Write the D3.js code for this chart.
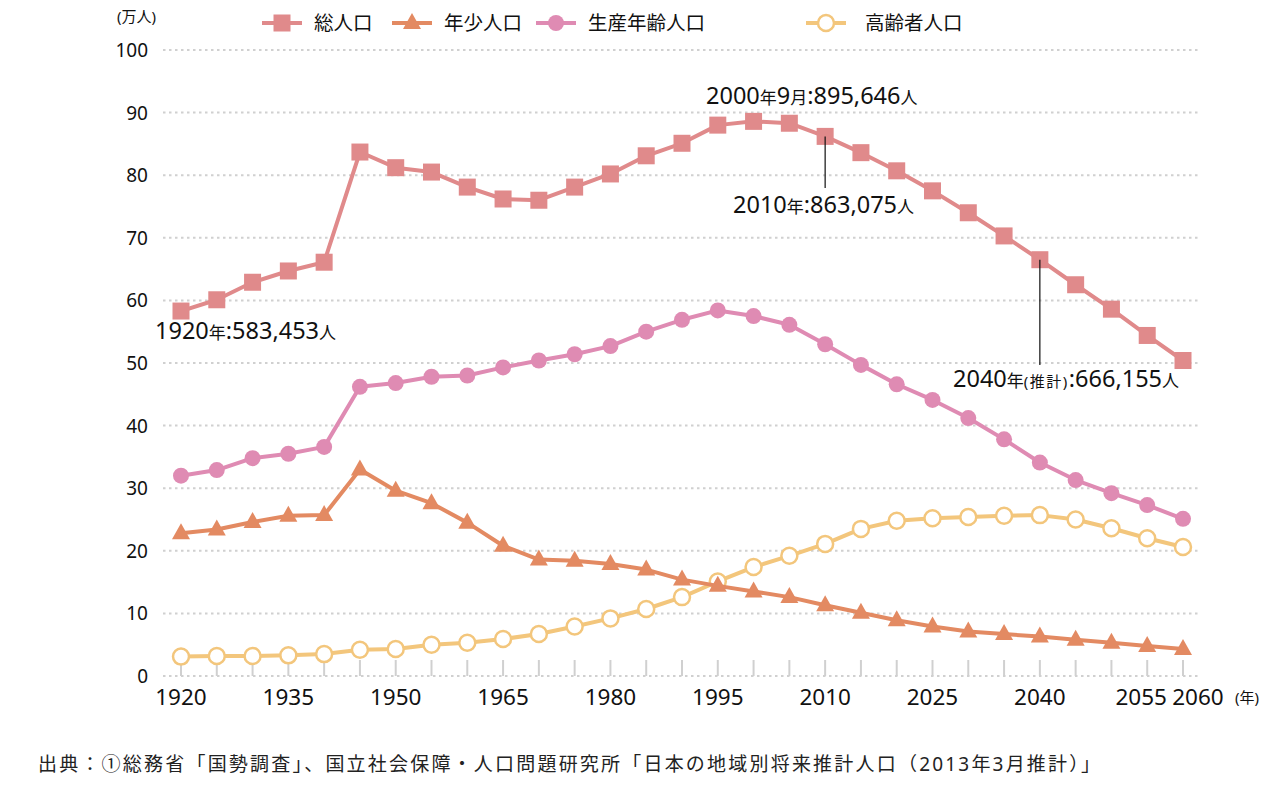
<!DOCTYPE html>
<html><head><meta charset="utf-8">
<script src="https://cdn.jsdelivr.net/npm/d3@7"></script>
<style>
body{margin:0;background:#fff;}
text{font-family:"Noto Sans","Noto Sans CJK JP",sans-serif;}
</style></head>
<body><svg id="c" width="1272" height="792"></svg>
<script>
const years = d3.range(1920, 2061, 5);
const xTickLabels = [1920,1935,1950,1965,1980,1995,2010,2025,2040,2055,2060];
const yTicks = [0,10,20,30,40,50,60,70,80,90,100];
const seriesNames = ["総人口","年少人口","生産年齢人口","高齢者人口"];
const totalPop = [58.3,60.1,62.9,64.7,66.1,83.7,81.2,80.5,78.1,76.2,76.0,78.1,80.2,83.1,85.1,88.0,88.6,88.3,86.2,83.6,80.7,77.5,74.0,70.3,66.5,62.5,58.6,54.4,50.4];
const youthPop = [22.8,23.4,24.6,25.6,25.7,33.0,29.6,27.6,24.5,20.8,18.6,18.4,17.9,17.0,15.4,14.4,13.5,12.6,11.3,10.1,8.9,7.9,7.1,6.7,6.3,5.8,5.3,4.8,4.3];
const workPop = [32.0,32.9,34.8,35.5,36.6,46.2,46.8,47.8,48.0,49.3,50.4,51.4,52.7,55.0,56.9,58.4,57.5,56.1,53.0,49.7,46.6,44.1,41.2,37.8,34.1,31.3,29.2,27.3,25.1];
const elderPop = [3.1,3.2,3.2,3.3,3.5,4.2,4.3,5.0,5.3,5.9,6.7,7.9,9.2,10.7,12.6,15.1,17.4,19.2,21.1,23.5,24.8,25.2,25.4,25.6,25.7,25.0,23.6,22.0,20.6];
const colors = ["#e08a8b","#e38a62","#df8bb3","#f3c67c"];
const markers = ["square","triangle","circle","open"];
const D = 23.5, K = 17;
const annotations = [
  {year:1920, parts:[["1920",D],["年",K],[":583,453",D],["人",K]], tx:155, ty:339, line:false},
  {year:2000, parts:[["2000",D],["年",K],["9",D],["月",K],[":895,646",D],["人",K]], tx:706, ty:104, line:false},
  {year:2010, parts:[["2010",D],["年",K],[":863,075",D],["人",K]], tx:733, ty:213, line:true, y2:188},
  {year:2040, parts:[["2040",D],["年",K],["(推計)",15,1.5],[":666,155",D],["人",K]], tx:953, ty:387, line:true, y2:365}
];

const svg = d3.select("#c");
const x = d3.scalePoint().domain(years).range([181,1183]);
const y = d3.scaleLinear().domain([0,100]).range([676,50]);

// gridlines
svg.append("g").selectAll("line").data(yTicks).join("line")
  .attr("x1",163).attr("x2",1200).attr("y1",d=>y(d)).attr("y2",d=>y(d))
  .attr("stroke","#d0d0d0").attr("stroke-width",2).attr("stroke-dasharray","2.5,3.5");
// bottom ticks
svg.append("g").selectAll("line").data(years).join("line")
  .attr("x1",d=>x(d)).attr("x2",d=>x(d)).attr("y1",y(0)-16).attr("y2",y(0))
  .attr("stroke","#d0d0d0").attr("stroke-width",2);

// y labels
svg.append("g").selectAll("text").data(yTicks).join("text")
  .attr("x",148).attr("y",d=>y(d)+7).attr("text-anchor","end")
  .attr("font-size",19).attr("fill","#111").text(d=>d);
svg.append("text").attr("x",117).attr("y",22).attr("font-size",15).attr("fill","#111").text("(万人)");

// x labels
const xOff = {2055:-6,2060:15};
svg.append("g").selectAll("text").data(xTickLabels).join("text")
  .attr("x",d=>x(d)+(xOff[d]||0)).attr("y",705).attr("text-anchor","middle")
  .attr("font-size",22.5).attr("fill","#111").text(d=>d);
svg.append("text").attr("x",1235).attr("y",703).attr("font-size",15).attr("fill","#111").text("(年)");

const allSeries = [totalPop,youthPop,workPop,elderPop];
const line = d3.line().x((d,i)=>x(years[i])).y(d=>y(d));

function drawMarker(g, type, color, cx, cy){
  if(type==="square") g.append("rect").attr("x",cx-8.5).attr("y",cy-8.5).attr("width",17).attr("height",17).attr("fill",color);
  else if(type==="triangle") g.append("path").attr("d",`M${cx},${cy-10}L${cx+9},${cy+6}L${cx-9},${cy+6}Z`).attr("fill",color);
  else if(type==="circle") g.append("circle").attr("cx",cx).attr("cy",cy).attr("r",8).attr("fill",color);
  else g.append("circle").attr("cx",cx).attr("cy",cy).attr("r",8).attr("fill","#fff").attr("stroke",color).attr("stroke-width",2.5);
}

// draw in order: elder, youth, work, total
[3,1,2,0].forEach(si=>{
  const g = svg.append("g");
  g.append("path").datum(allSeries[si]).attr("d",line).attr("fill","none")
    .attr("stroke",colors[si]).attr("stroke-width",4).attr("stroke-linejoin","round");
  allSeries[si].forEach((v,i)=>drawMarker(g, markers[si], colors[si], x(years[i]), y(v)));
});

// legend
const legX = [262,392,536,806], legTX=[314,444,588,865];
seriesNames.forEach((n,i)=>{
  const g = svg.append("g");
  g.append("line").attr("x1",legX[i]).attr("x2",legX[i]+40).attr("y1",23).attr("y2",23)
    .attr("stroke",colors[i]).attr("stroke-width",4);
  drawMarker(g, markers[i], colors[i], legX[i]+20, 23);
  g.append("text").attr("x",legTX[i]).attr("y",30).attr("font-size",19.5).attr("fill","#111").text(n);
});

// annotations
annotations.forEach(a=>{
  const idx = years.indexOf(a.year);
  if(a.line){
    svg.append("line").attr("x1",x(a.year)).attr("x2",x(a.year))
      .attr("y1",y(totalPop[idx])).attr("y2",a.y2).attr("stroke","#111").attr("stroke-width",1.2);
  }
  const t = svg.append("text").attr("x",a.tx).attr("y",a.ty).attr("fill","#111");
  a.parts.forEach(p=>{
    const s = t.append("tspan").attr("font-size",p[1]).text(p[0]);
    if(p[2]) s.attr("letter-spacing",p[2]);
  });
});

// source
svg.append("text").attr("x",38).attr("y",771).attr("font-size",19).attr("fill","#222")
  .attr("textLength",1062).attr("lengthAdjust","spacing")
  .text("出典：①総務省「国勢調査」、国立社会保障・人口問題研究所「日本の地域別将来推計人口（2013年3月推計）」");
</script></body></html>
